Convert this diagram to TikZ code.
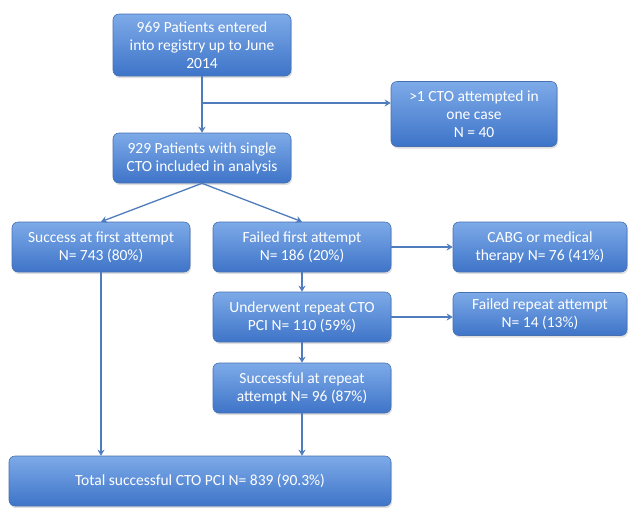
\documentclass[tikz,border=0pt]{standalone}
\usepackage{fontspec}
\setmainfont{Carlito}
\usetikzlibrary{arrows.meta,positioning,calc,shadows}

\definecolor{boxtop}{RGB}{125,170,232}
\definecolor{boxbot}{RGB}{62,116,200}
\definecolor{boxline}{RGB}{70,112,178}
\definecolor{arrline}{RGB}{78,124,188}

\begin{document}
\begin{tikzpicture}[
  x=1pt, y=-1pt,
  B/.style={
    rectangle, rounded corners=6pt,
    draw=boxline, line width=0.6pt,
    top color=boxtop, bottom color=boxbot, text=white,
    font=\fontsize{15.5}{18}\selectfont, align=center, inner sep=2pt,
    minimum width=178pt, minimum height=50pt,
    drop shadow={opacity=0.25, shadow xshift=1pt, shadow yshift=-2pt}
  },
  arr/.style={-{Stealth[length=6pt,width=7pt]}, draw=arrline, line width=1.3pt}
]
\useasboundingbox (0,0) rectangle (629,507);

\node[B, minimum height=62pt] (reg) at (202,45)
  {969 Patients entered\\into registry up to June\\2014};
\node[B] (single) at (202,158) {929 Patients with single\\CTO included in analysis};
\node[B, minimum width=166pt, minimum height=65pt] (multi) at (474,114)
  {>1 CTO attempted in\\one case\\N = 40};

\node[B] (succ1) at (101,247) {Success at first attempt\\N= 743 (80\%)};
\node[B] (fail1) at (302,247) {Failed first attempt\\N= 186 (20\%)};
\node[B, minimum width=174pt] (cabg) at (540,247) {CABG or medical\\therapy N= 76 (41\%)};

\node[B] (redo) at (302,317) {Underwent repeat CTO\\PCI N= 110 (59\%)};
\node[B, minimum width=174pt, minimum height=43pt] (fail2) at (540,314)
  {Failed repeat attempt\\N= 14 (13\%)};
\node[B] (succ2) at (302,388) {Successful at repeat\\attempt N= 96 (87\%)};

\node[B, minimum width=382pt] (total) at (200,481)
  {Total successful CTO PCI N= 839 (90.3\%)};

% excluded branch
\coordinate (split) at (202,103);

\draw[arr] (reg) -- (single);
\draw[arr] (split) -- (split -| multi.west);
\draw[arr] (single.south) -- (succ1.north);
\draw[arr] (single.south) -- (fail1.north);
\draw[arr] (fail1) -- (cabg);
\draw[arr] (fail1) -- (redo);
\draw[arr] (redo.east) -- (redo.east -| fail2.west);
\draw[arr] (redo) -- (succ2);
\draw[arr] (succ1.south) -- (succ1.south |- total.north);
\draw[arr] (succ2.south) -- (succ2.south |- total.north);

\end{tikzpicture}
\end{document}
